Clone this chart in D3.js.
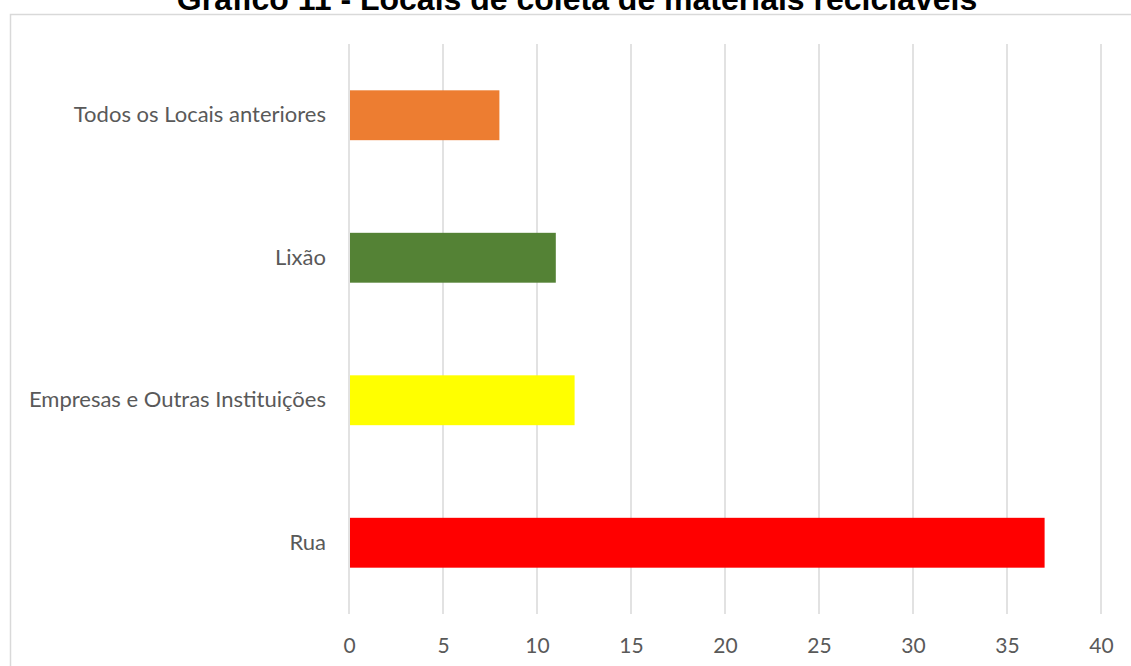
<!DOCTYPE html>
<html>
<head>
<meta charset="utf-8">
<script src="https://cdn.jsdelivr.net/npm/d3@7"></script>
<style>
  body { margin: 0; background: #fff; }
  svg { display: block; }
</style>
</head>
<body>
<div id="content"></div>
<script>
// Chart size
const width = 1131;
const height = 666;

// Data
const categories = ["Todos os Locais anteriores", "Lixão", "Empresas e Outras Instituições", "Rua"];
const values = [8, 11, 12, 37];
const colors = ["#ed7d31", "#548235", "#ffff00", "#ff0000"];
const xTicks = [0, 5, 10, 15, 20, 25, 30, 35, 40];
const title = "Gráfico 11 - Locais de coleta de materiais recicláveis";

const margin = { top: 44, right: 30, bottom: 52, left: 349 };

const svg = d3.select("#content")
  .append("svg")
  .attr("width", width)
  .attr("height", height);

// Chart frame
svg.append("rect")
  .attr("x", 10.5)
  .attr("y", 14.5)
  .attr("width", 1130)
  .attr("height", 700)
  .attr("fill", "none")
  .attr("stroke", "#d9d9d9")
  .attr("stroke-width", 1.5);

// Title (sits partly above the page edge, as in the source)
svg.append("text")
  .attr("x", 577)
  .attr("y", 10)
  .attr("text-anchor", "middle")
  .attr("font-family", "Liberation Sans, Arial, sans-serif")
  .attr("font-weight", "bold")
  .attr("font-size", 32)
  .attr("fill", "#000")
  .text(title);

const x = d3.scaleLinear()
  .domain([0, 40])
  .range([margin.left, 1101]);

const y = d3.scaleBand()
  .domain(categories)
  .range([margin.top, height - margin.bottom])
  .paddingInner(0.65)
  .paddingOuter(0.325);

// Vertical gridlines
svg.append("g")
  .selectAll("line")
  .data(xTicks)
  .join("line")
  .attr("x1", d => x(d))
  .attr("x2", d => x(d))
  .attr("y1", margin.top)
  .attr("y2", height - margin.bottom)
  .attr("stroke", "#d9d9d9")
  .attr("stroke-width", 1.5);

// Bars
svg.append("g")
  .selectAll("rect")
  .data(categories)
  .join("rect")
  .attr("x", x(0) + 1)
  .attr("y", d => y(d))
  .attr("width", (d, i) => x(values[i]) - x(0) - 1)
  .attr("height", y.bandwidth())
  .attr("fill", (d, i) => colors[i]);

// X axis labels
const xAxis = svg.append("g")
  .attr("transform", `translate(0,${height - margin.bottom})`)
  .call(d3.axisBottom(x).tickValues(xTicks).tickSize(0).tickPadding(24));
xAxis.select(".domain").remove();
xAxis.selectAll("text")
  .attr("font-family", "Lato, 'Noto Sans', sans-serif")
  .attr("font-size", 21)
  .attr("fill", "#595959");

// Category labels
const yAxis = svg.append("g")
  .attr("transform", `translate(${margin.left},0)`)
  .call(d3.axisLeft(y).tickSize(0).tickPadding(23));
yAxis.select(".domain").remove();
yAxis.selectAll("text")
  .attr("font-family", "Lato, 'Noto Sans', sans-serif")
  .attr("font-size", 22)
  .attr("fill", "#595959");
</script>
</body>
</html>
